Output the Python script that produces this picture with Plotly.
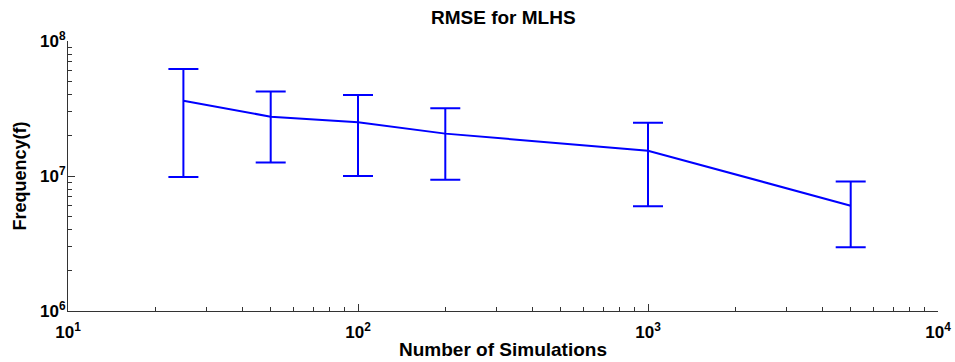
import plotly.graph_objects as go

n_sims = [25, 50, 100, 200, 1000, 5000]
rmse_mean = [3.61e7, 2.75e7, 2.50e7, 2.06e7, 1.54e7, 6.03e6]
rmse_upper = [6.21e7, 4.22e7, 3.98e7, 3.17e7, 2.48e7, 9.12e6]
rmse_lower = [9.84e6, 1.26e7, 1.00e7, 9.4e6, 5.96e6, 2.97e6]

x_tick_vals = [10, 100, 1000, 10000]
x_tick_text = ["10<sup>1</sup>", "10<sup>2</sup>", "10<sup>3</sup>", "10<sup>4</sup>"]
y_tick_vals = [1e6, 1e7, 1e8]
y_tick_text = ["10<sup>6</sup>", "10<sup>7</sup>", "10<sup>8</sup>"]

err_plus = [u - m for u, m in zip(rmse_upper, rmse_mean)]
err_minus = [m - l for m, l in zip(rmse_mean, rmse_lower)]

FONT = "Liberation Sans, Arial, sans-serif"
BLUE = "#0000ff"
AX = "#333333"


def minor_vals(lo_exp, hi_exp):
    return [k * 10 ** e for e in range(lo_exp, hi_exp) for k in range(2, 10)]


fig = go.Figure()
fig.add_trace(go.Scatter(
    x=n_sims, y=rmse_mean, mode="lines",
    line=dict(color=BLUE, width=2),
    error_y=dict(type="data", symmetric=False, array=err_plus, arrayminus=err_minus,
                 color=BLUE, thickness=2, width=15),
    showlegend=False,
))

axis_common = dict(
    type="log", showgrid=False, zeroline=False, showline=True,
    linecolor=AX, linewidth=1, ticks="inside", ticklen=7,
    tickcolor=AX, tickmode="array", automargin=False,
    tickfont=dict(family=FONT, size=17, color="black", weight="bold"),
    mirror=False,
)

fig.update_layout(
    width=955, height=362,
    margin=dict(l=68, r=17, t=41, b=51),
    paper_bgcolor="white", plot_bgcolor="white",
    title=dict(text="RMSE for MLHS", x=0.527, xanchor="center", y=0.951, yanchor="middle",
               font=dict(family=FONT, size=19, color="black", weight="bold")),
    xaxis=dict(axis_common, range=[1, 4], tickvals=x_tick_vals, ticktext=x_tick_text,
               ticklabelstandoff=6,
               minor=dict(ticks="inside", ticklen=4, tickcolor=AX, tickmode="array",
                          tickvals=minor_vals(1, 4), showgrid=False),
               title=dict(text="Number of Simulations", standoff=1,
                          font=dict(family=FONT, size=19, color="black", weight="bold"))),
    yaxis=dict(axis_common, range=[6, 8], tickvals=y_tick_vals, ticktext=y_tick_text,
               ticklabelstandoff=-2,
               minor=dict(ticks="inside", ticklen=4, tickcolor=AX, tickmode="array",
                          tickvals=minor_vals(6, 8), showgrid=False),
               title=dict(text="Frequency(f)", standoff=8,
                          font=dict(family=FONT, size=18, color="black", weight="bold"))),
)

fig.write_html("out.html")
